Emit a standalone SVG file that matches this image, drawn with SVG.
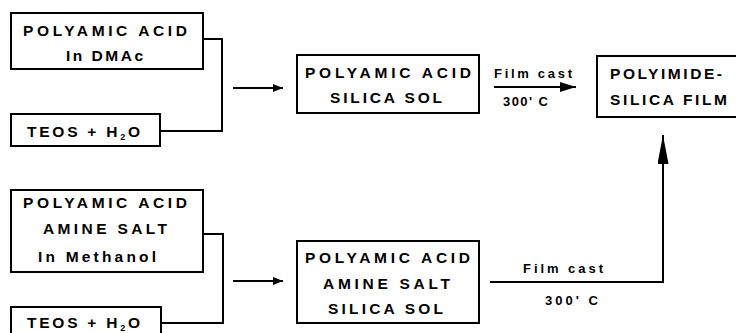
<svg xmlns="http://www.w3.org/2000/svg" width="736" height="333" viewBox="0 0 736 333">
<style>
  .box { fill: #fff; stroke: #000; stroke-width: 2; }
  .t { font-family: "Liberation Sans", Arial, sans-serif; font-weight: bold; font-size: 15.5px; fill: #000; }
  .s { font-family: "Liberation Sans", Arial, sans-serif; font-weight: bold; font-size: 13px; fill: #000; }
  .ln { fill: none; stroke: #000; stroke-width: 2; }
</style>
<defs>
  <marker id="ah" markerWidth="10" markerHeight="8" refX="10" refY="4" orient="auto" markerUnits="userSpaceOnUse">
    <path d="M0,0 L10,4 L0,8 Z" fill="#000"/>
  </marker>
  <marker id="ahBig" markerWidth="16" markerHeight="10" refX="16" refY="5" orient="auto" markerUnits="userSpaceOnUse">
    <path d="M0,0 L16,5 L0,10 Z" fill="#000"/>
  </marker>
  <marker id="ahTall" markerWidth="29" markerHeight="11" refX="29" refY="5.5" orient="auto" markerUnits="userSpaceOnUse">
    <path d="M0,0 L29,5.5 L0,11 Z" fill="#000"/>
  </marker>
</defs>

<g id="paa-dmac">
  <rect class="box" x="11" y="13" width="192" height="56"/>
  <text class="t" x="23" y="36" textLength="164" lengthAdjust="spacing">POLYAMIC ACID</text>
  <text class="t" x="66" y="61" textLength="77" lengthAdjust="spacing">In DMAc</text>
</g>

<g id="teos1">
  <rect class="box" x="11" y="114" width="149" height="32"/>
  <text class="t" x="27" y="137" textLength="113" lengthAdjust="spacing">TEOS + H<tspan font-size="9" dy="3">2</tspan><tspan dy="-3">O</tspan></text>
</g>

<g id="paa-silica-sol">
  <rect class="box" x="297" y="55" width="182" height="58"/>
  <text class="t" x="305" y="78" textLength="166" lengthAdjust="spacing">POLYAMIC ACID</text>
  <text class="t" x="330" y="103" textLength="112" lengthAdjust="spacing">SILICA SOL</text>
</g>

<g id="polyimide-film">
  <rect class="box" x="597" y="56" width="145" height="61"/>
  <text class="t" x="610" y="79" textLength="112" lengthAdjust="spacing">POLYIMIDE-</text>
  <text class="t" x="610" y="105" textLength="117" lengthAdjust="spacing">SILICA FILM</text>
</g>

<g id="paa-amine-methanol">
  <rect class="box" x="11" y="190" width="192" height="82"/>
  <text class="t" x="23" y="208" textLength="164" lengthAdjust="spacing">POLYAMIC ACID</text>
  <text class="t" x="43" y="234" textLength="124" lengthAdjust="spacing">AMINE SALT</text>
  <text class="t" x="38" y="262" textLength="118" lengthAdjust="spacing">In Methanol</text>
</g>

<g id="teos2">
  <rect class="box" x="11" y="307" width="150" height="40"/>
  <text class="t" x="27" y="328" textLength="113" lengthAdjust="spacing">TEOS + H<tspan font-size="9" dy="3">2</tspan><tspan dy="-3">O</tspan></text>
</g>

<g id="paa-amine-silica-sol">
  <rect class="box" x="297" y="241" width="182" height="82"/>
  <text class="t" x="305" y="263" textLength="165" lengthAdjust="spacing">POLYAMIC ACID</text>
  <text class="t" x="323" y="289" textLength="127" lengthAdjust="spacing">AMINE SALT</text>
  <text class="t" x="328" y="314" textLength="115" lengthAdjust="spacing">SILICA SOL</text>
</g>

<g id="connectors">
  <polyline class="ln" points="203,39 222,39 222,131 160,131"/>
  <line class="ln" x1="233" y1="88" x2="283" y2="88" marker-end="url(#ah)"/>
  <polyline class="ln" points="203,234 223,234 223,323 161,323"/>
  <line class="ln" x1="233" y1="281" x2="283" y2="281" marker-end="url(#ah)"/>
  <line class="ln" x1="494" y1="87" x2="576" y2="87" marker-end="url(#ahBig)"/>
  <text class="s" x="494" y="78" textLength="78" lengthAdjust="spacing">Film cast</text>
  <text class="s" x="503" y="106" textLength="45" lengthAdjust="spacing">300' C</text>
  <polyline class="ln" points="490,282 663,282 663,135" marker-end="url(#ahTall)"/>
  <text class="s" x="523" y="273" textLength="80" lengthAdjust="spacing">Film cast</text>
  <text class="s" x="545" y="305" textLength="53" lengthAdjust="spacing">300' C</text>
</g>
</svg>
